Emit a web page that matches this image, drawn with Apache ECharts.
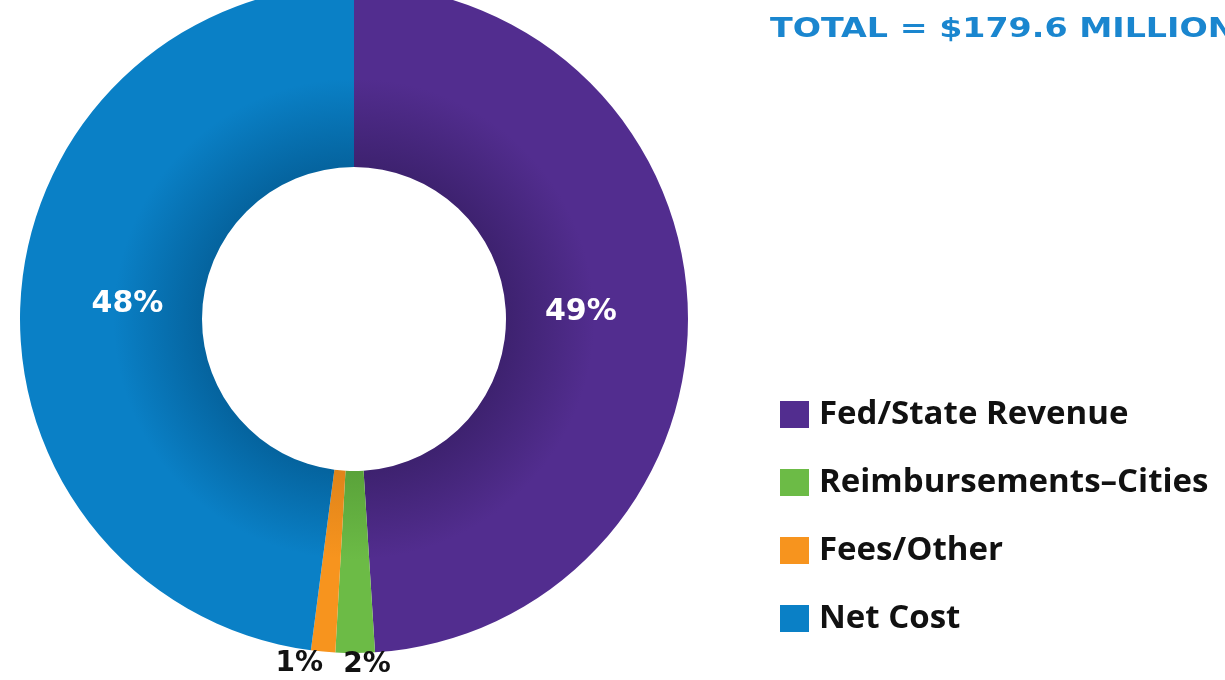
<!DOCTYPE html>
<html><head><meta charset="utf-8">
<script src="https://cdn.jsdelivr.net/npm/echarts@6/dist/echarts.min.js"></script>
<style>html,body{margin:0;padding:0;background:#fff}#c{width:1225px;height:680px}</style>
</head><body><div id="c"></div>
<script>
const titleText = 'TOTAL = $179.6 MILLION';
const categories = ['Fed/State Revenue', 'Reimbursements\u2013Cities', 'Fees/Other', 'Net Cost'];
const values = [88.0, 3.4, 2.1, 86.1];
const colors = ['#522d8f', '#6cbb46', '#f7941e', '#0a80c6'];
const darkColors = ['#3e2270', '#5aa33a', '#e0841a', '#05649f'];

const CX = 354, CY = 319, R = 334, R0 = 152;
function grad(i){
  return new echarts.graphic.RadialGradient(CX, CY, R, [
    {offset: 0, color: darkColors[i]},
    {offset: 0.46, color: darkColors[i]},
    {offset: 0.72, color: colors[i]},
    {offset: 1, color: colors[i]}
  ], true);
}
const chart = echarts.init(document.getElementById('c'));
const smallShift = [0, -17, -6, 0];
const data = categories.map((n, i) => {
  const d = {name: n, value: values[i], itemStyle: {color: grad(i)}};
  if (i === 1 || i === 2) {
    d.label = {show: true, position: 'outside', color: '#111', fontSize: 28, fontWeight: 'bold', fontFamily: 'DejaVu Sans'};
    d.labelLine = {show: false, length: 12, length2: smallShift[i]};
  } else {
    d.label = {show: false};
  }
  return d;
});
const innerData = categories.map((n, i) => ({
  name: n, value: values[i],
  label: {show: i === 0 || i === 3}
}));
chart.setOption({
  animation: false,
  graphic: [{
    type: 'text', x: 770, y: 17, scaleX: 1.28,
    style: {text: titleText, fill: '#1a86cf', font: 'bold 26px "DejaVu Sans"'}
  }],
  legend: {
    orient: 'vertical', left: 775, top: 393,
    itemWidth: 29, itemHeight: 27, itemGap: 35,
    icon: 'rect',
    data: categories.map((n, i) => ({name: n, itemStyle: {color: colors[i]}})),
    textStyle: {fontSize: 33, fontWeight: 'bold', color: '#111', fontFamily: 'Open Sans', padding: [0,0,0,5]}
  },
  series: [{
    type: 'pie',
    center: [CX, CY],
    radius: [R0, R],
    startAngle: 90,
    clockwise: true,
    percentPrecision: 0,
    avoidLabelOverlap: false,
    label: {formatter: '{d}%'},
    data: data
  }, {
    type: 'pie',
    silent: true,
    center: [CX, CY],
    radius: [R0, 296],
    startAngle: 90,
    clockwise: true,
    percentPrecision: 0,
    avoidLabelOverlap: false,
    itemStyle: {color: 'rgba(0,0,0,0)'},
    label: {position: 'inside', formatter: '{d}%', color: '#fff', fontSize: 30,
      fontWeight: 'bold', fontFamily: 'DejaVu Sans'},
    labelLine: {show: false},
    data: innerData
  }]
});
</script></body></html>
